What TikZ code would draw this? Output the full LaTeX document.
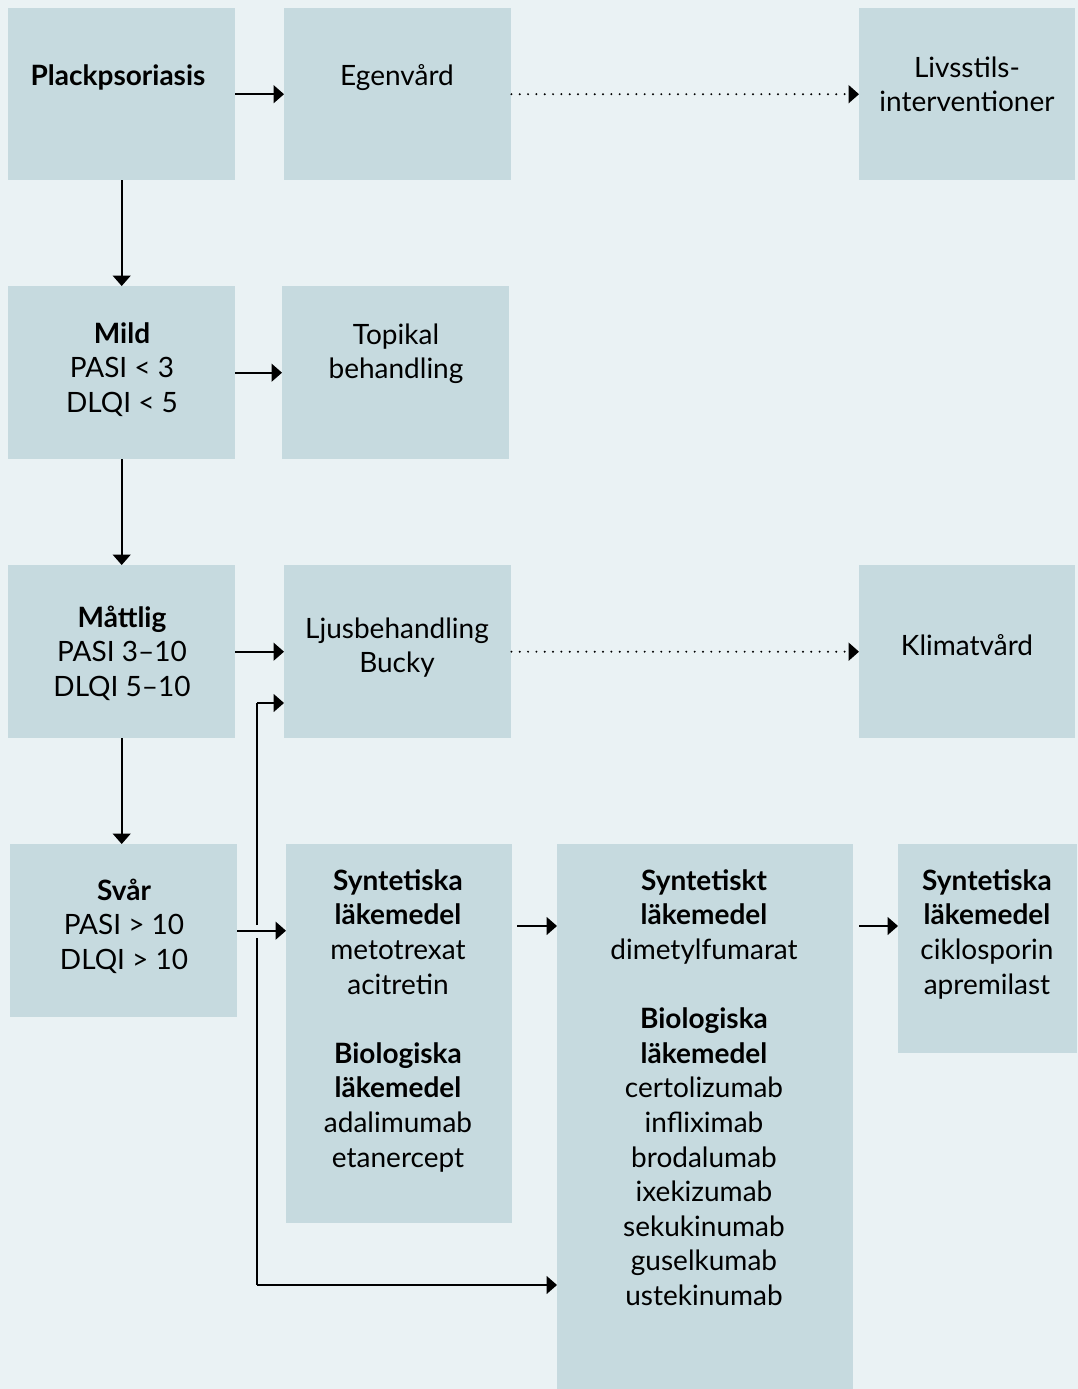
\documentclass[tikz,border=0pt]{standalone}
\usepackage{fontspec}
\setmainfont{Lato}
\usetikzlibrary{arrows.meta}
\definecolor{bgc}{HTML}{EAF2F4}
\definecolor{boxc}{HTML}{C6DADF}
\newcommand\fstrut{\rule{0pt}{24pt}}
\begin{document}
\begin{tikzpicture}[x=1pt,y=-1pt,
  box/.style={fill=boxc, draw=none, inner sep=0pt, anchor=north west},
  txt/.style={anchor=north, align=center, inner sep=0pt, font=\fontsize{28}{34.6}\selectfont},
  arr/.style={-{Triangle[length=10.5pt,width=18pt]}, line width=1.6pt},
  dotarr/.style={-{Triangle[length=10.5pt,width=18pt]}, line width=2.2pt, line cap=round, dash pattern=on 0pt off 8.33pt}]
\useasboundingbox[fill=bgc] (0,0) rectangle (1078,1389);
% boxes
\node[box, minimum width=227pt, minimum height=172pt] (plack) at (8,8) {};
\node[box, minimum width=227pt, minimum height=172pt] (egen) at (284,8) {};
\node[box, minimum width=216pt, minimum height=172pt] (livs) at (859,8) {};
\node[box, minimum width=227pt, minimum height=173pt] (mild) at (8,286) {};
\node[box, minimum width=227pt, minimum height=173pt] (topi) at (282,286) {};
\node[box, minimum width=227pt, minimum height=173pt] (matt) at (8,565) {};
\node[box, minimum width=227pt, minimum height=173pt] (ljus) at (284,565) {};
\node[box, minimum width=216pt, minimum height=173pt] (klim) at (859,565) {};
\node[box, minimum width=227pt, minimum height=173pt] (svar) at (10,844) {};
\node[box, minimum width=226pt, minimum height=379pt] (synt) at (286,844) {};
\node[box, minimum width=296pt, minimum height=545pt] (big) at (557,844) {};
\node[box, minimum width=179pt, minimum height=209pt] (right) at (898,844) {};
% texts
\node[txt] (tplack) at (118,85-24) {\fstrut\textbf{Plackpsoriasis}};
\node[txt] (tegen) at (397,85-24) {\fstrut Egenvård};
\node[txt] (tlivs) at (967,77-24) {\fstrut Livsstils-\\interventioner};
\node[txt] (tmild) at (122,343-24) {\fstrut\textbf{Mild}\\PASI < 3\\DLQI < 5};
\node[txt] (ttopi) at (396,344-24) {\fstrut Topikal\\behandling};
\node[txt] (tmatt) at (122,627-24) {\fstrut\textbf{Måttlig}\\PASI 3–10\\DLQI 5–10};
\node[txt] (tljus) at (397,638-24) {\fstrut Ljusbehandling\\Bucky};
\node[txt] (tklim) at (967,655-24) {\fstrut Klimatvård};
\node[txt] (tsvar) at (124,900-24) {\fstrut\textbf{Svår}\\PASI > 10\\DLQI > 10};
\node[txt] (tsynt) at (398,890-24) {\fstrut\textbf{Syntetiska}\\\textbf{läkemedel}\\metotrexat\\acitretin\\[34.6pt]\textbf{Biologiska}\\\textbf{läkemedel}\\adalimumab\\etanercept};
\node[txt] (tbig) at (704,890-24) {\fstrut\textbf{Syntetiskt}\\\textbf{läkemedel}\\dimetylfumarat\\[34.6pt]\textbf{Biologiska}\\\textbf{läkemedel}\\certolizumab\\infliximab\\brodalumab\\ixekizumab\\sekukinumab\\guselkumab\\ustekinumab};
\node[txt] (tright) at (987,890-24) {\fstrut\textbf{Syntetiska}\\\textbf{läkemedel}\\ciklosporin\\apremilast};
% connectors
\draw[arr] (plack.east) -- (egen.west);
\draw[dotarr] (egen.east) -- (livs.west);
\draw[arr] (plack.south) -- (mild.north);
\draw[arr] (mild.east) -- (topi.west);
\draw[arr] (mild.south) -- (matt.north);
\draw[arr] (matt.east) -- (ljus.west);
\draw[dotarr] (ljus.east) -- (klim.west);
\draw[arr] (matt.south) -- (matt.south |- svar.north);
\draw[arr] (svar.east) -- (svar.east -| synt.west);
\coordinate (sy) at (517,926);
\draw[arr] (sy) -- (sy -| big.west);
\coordinate (ry) at (859,926);
\draw[arr] (ry) -- (ry -| right.west);
\coordinate (j1) at (257,703);
\coordinate (j2) at (257,1285);
\coordinate (g1) at (257,925);
\coordinate (g2) at (257,938);
\draw[line width=1.6pt] (g1) -- (j1);
\draw[arr] (j1) -- (j1 -| ljus.west);
\draw[line width=1.6pt] (g2) -- (j2);
\draw[arr] (j2) -- (j2 -| big.west);
\end{tikzpicture}
\end{document}
